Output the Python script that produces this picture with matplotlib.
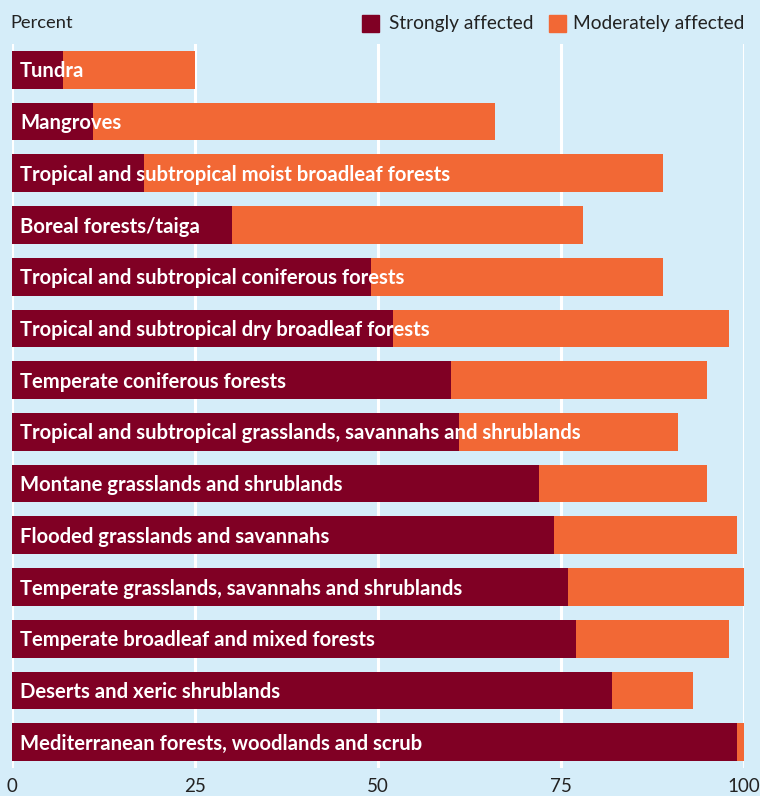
import matplotlib
matplotlib.use("Agg")
from matplotlib import pyplot as plt
from matplotlib.patches import Rectangle

plt.rcParams['font.family'] = ['Lato', 'DejaVu Sans']

biomes = [
    "Tundra",
    "Mangroves",
    "Tropical and subtropical moist broadleaf forests",
    "Boreal forests/taiga",
    "Tropical and subtropical coniferous forests",
    "Tropical and subtropical dry broadleaf forests",
    "Temperate coniferous forests",
    "Tropical and subtropical grasslands, savannahs and shrublands",
    "Montane grasslands and shrublands",
    "Flooded grasslands and savannahs",
    "Temperate grasslands, savannahs and shrublands",
    "Temperate broadleaf and mixed forests",
    "Deserts and xeric shrublands",
    "Mediterranean forests, woodlands and scrub",
]
strongly = [7, 11, 18, 30, 49, 52, 60, 61, 72, 74, 76, 77, 82, 99]
moderately = [18, 55, 71, 48, 40, 46, 35, 30, 23, 25, 24, 21, 11, 1]
ticks = [0, 25, 50, 75, 100]

bg = '#d5edf9'
dark = '#800024'
orange = '#f26835'

fig = plt.figure(figsize=(7.6, 7.96), dpi=100)
fig.patch.set_facecolor(bg)
ax = fig.add_axes([12/760, 1 - 768/796, 732/760, 724/796])
ax.set_facecolor(bg)

y = list(range(len(biomes)))
ax.barh(y, strongly, height=0.73, color=dark, zorder=3)
ax.barh(y, moderately, left=strongly, height=0.73, color=orange, zorder=3)
for i, name in enumerate(biomes):
    ax.text(1.1, i + 0.03, name, color='white', fontweight='bold', fontsize=14.6,
            va='center', ha='left', zorder=4)

ax.set_xlim(0, 100)
ax.set_ylim(len(biomes) - 0.5, -0.5)
ax.set_xticks(ticks)
ax.set_xticklabels([str(t) for t in ticks])
ax.set_yticks([])
ax.tick_params(axis='x', length=0, labelsize=13.5, colors='#222222', pad=7)
ax.xaxis.grid(True, color='white', linewidth=2.2, zorder=1)
ax.set_axisbelow(True)
for s in ax.spines.values():
    s.set_visible(False)

fig.text(10/760, 1 - 23/796, "Percent", fontsize=13.2, color='#222222', va='center')
fig.patches.append(Rectangle((362/760, 1 - 32/796), 17/760, 17/796,
                             transform=fig.transFigure, color=dark))
fig.text(389/760, 1 - 23/796, "Strongly affected", fontsize=13.8, color='#222222', va='center')
fig.patches.append(Rectangle((549/760, 1 - 32/796), 17/760, 17/796,
                             transform=fig.transFigure, color=orange))
fig.text(573/760, 1 - 23/796, "Moderately affected", fontsize=13.8, color='#222222', va='center')

fig.savefig('out.png', dpi=100, facecolor=bg)
